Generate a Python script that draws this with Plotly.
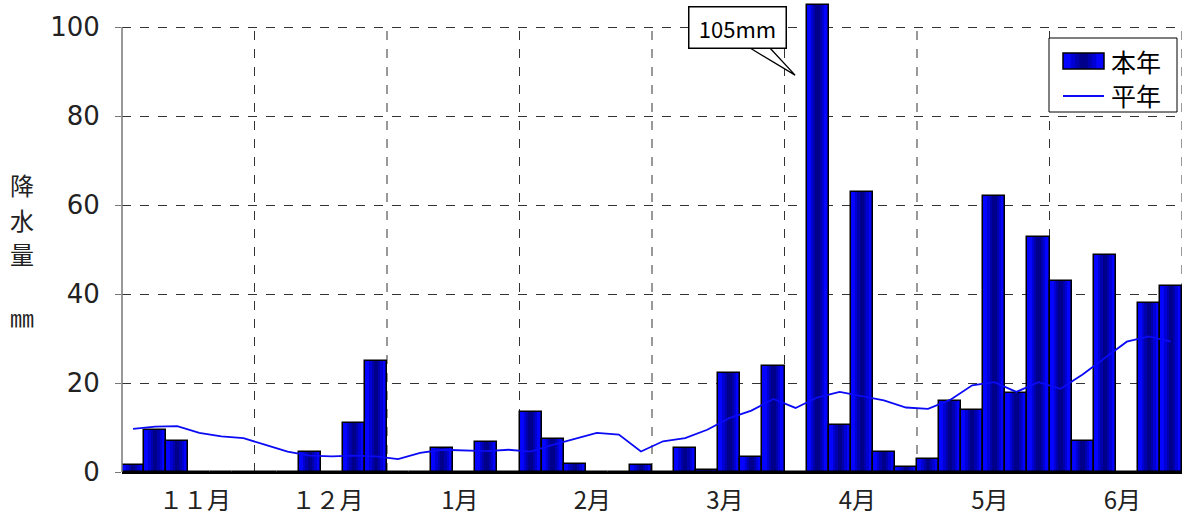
import plotly.graph_objects as go

# ---- data (5-day periods, Nov to Jun, 6 per month) ----
months = ["１１月", "１２月", "1月", "2月", "3月", "4月", "5月", "6月"]
periods_per_month = 6

this_year = [1.5, 9.5, 6.9, 0, 0, 0,
             0, 0, 4.5, 0, 11.0, 25.0,
             0, 0, 5.3, 0, 6.8, 0,
             13.6, 7.5, 1.9, 0, 0, 1.5,
             0, 5.3, 0.4, 22.3, 3.4, 23.9,
             0, 105, 10.5, 62.9, 4.5, 1.2,
             3.0, 15.9, 14.0, 62.0, 17.8, 52.8,
             42.9, 6.9, 48.7, 0, 38.0, 41.7]

normal = [9.7, 10.2, 10.3, 8.8, 8.0, 7.6,
          6.1, 4.6, 3.7, 3.5, 3.7, 3.5,
          2.9, 4.3, 5.0, 4.9, 4.7, 5.0,
          4.6, 6.1, 7.5, 8.8, 8.4, 4.6,
          6.9, 7.6, 9.5, 12.1, 13.8, 16.4,
          14.4, 16.8, 18.0, 17.0, 16.1, 14.5,
          14.2, 16.2, 19.5, 20.2, 18.0, 20.2,
          18.7, 21.9, 25.6, 29.3, 30.5, 29.3]

y_ticks = [0, 20, 40, 60, 80, 100]
peak_label = "105mm"
y_title_chars = ["降", "水", "量"]
y_unit = "㎜"
legend_names = ["本年", "平年"]

n = len(this_year)
x = list(range(n))
JP = "Noto Sans CJK JP"

# plot-area geometry helpers (pixels -> paper)
L, R, T, B = 122, 1182, 0, 472
def px(p):
    return (p - L) / (R - L)
def py(p):
    return (B - p) / (B - T)

fig = go.Figure()

# stepped gradient bars (bright edges, dark centre)
grad = [(1.0, "#0404FF"), (0.62, "#0000D4"), (0.40, "#0000AC"), (0.20, "#00008A")]
for w, c in grad:
    fig.add_trace(go.Bar(
        x=x, y=this_year, width=w, name=legend_names[0], showlegend=False,
        marker=dict(color=c, line=dict(width=0)), hoverinfo="skip"))
# outline on top
fig.add_trace(go.Bar(
    x=x, y=this_year, width=1.0, showlegend=False,
    marker=dict(color="rgba(0,0,0,0)", line=dict(color="black", width=1.5)),
    hoverinfo="skip"))

fig.add_trace(go.Scatter(
    x=x, y=normal, mode="lines", name=legend_names[1], showlegend=False,
    line=dict(color="#0A0AF5", width=1.8)))

shapes = []
# month boundaries (dashed)
for k in range(1, len(months) + 1):
    xb = k * periods_per_month - 0.5
    shapes.append(dict(type="line", xref="x", yref="y", x0=xb, x1=xb,
                       y0=0, y1=y_ticks[-1], layer="below",
                       line=dict(color="#333", width=1, dash="dash")))
# left axis line up to 100
shapes.append(dict(type="line", xref="paper", yref="y", x0=0, x1=0,
                   y0=0, y1=y_ticks[-1], layer="above",
                   line=dict(color="#777", width=1.5)))
# callout tail
peak_i = this_year.index(max(this_year))
shapes.append(dict(type="path", xref="x", yref="y",
                   path=f"M {peak_i-3.06},95.3 L {peak_i-1.02},89.2 L {peak_i-2.16},95.3",
                   fillcolor="white", line=dict(color="black", width=1.3),
                   layer="above"))

# custom legend box
shapes.append(dict(type="rect", xref="paper", yref="paper",
                   x0=px(1049), x1=px(1177), y0=py(112), y1=py(38),
                   fillcolor="white", line=dict(color="black", width=1),
                   layer="above"))
ix0, ix1, iy0, iy1 = 1063, 1104, 53, 69
icx = (ix0 + ix1) / 2
for w, c in grad:
    half = (ix1 - ix0) * w / 2
    shapes.append(dict(type="rect", xref="paper", yref="paper",
                       x0=px(icx - half), x1=px(icx + half), y0=py(iy1), y1=py(iy0),
                       fillcolor=c, line=dict(width=0), layer="above"))
shapes.append(dict(type="rect", xref="paper", yref="paper",
                   x0=px(ix0), x1=px(ix1), y0=py(iy1), y1=py(iy0),
                   fillcolor="rgba(0,0,0,0)", line=dict(color="black", width=1.5),
                   layer="above"))
shapes.append(dict(type="line", xref="paper", yref="paper",
                   x0=px(ix0), x1=px(ix1), y0=py(96), y1=py(96),
                   line=dict(color="#0A0AF5", width=1.8), layer="above"))

annotations = [
    dict(x=peak_i - 3.65, y=100, xref="x", yref="y", text=peak_label,
         showarrow=False, width=94, height=38, bgcolor="white",
         bordercolor="black", borderwidth=1.5,
         font=dict(family=JP, size=22, color="black")),
]
for ch, pyy in zip(y_title_chars, [185, 219, 253]):
    annotations.append(dict(x=px(22), y=py(pyy), xref="paper", yref="paper",
                            xanchor="center", yanchor="middle",
                            text=ch, showarrow=False,
                            font=dict(family=JP, size=24, color="#222")))
annotations.append(dict(x=px(22), y=py(316), xref="paper", yref="paper",
                        xanchor="center", yanchor="middle",
                        text=y_unit, showarrow=False,
                        font=dict(family=JP, size=24, color="#222")))
for name, pyy in zip(legend_names, [61, 95]):
    annotations.append(dict(x=px(1109), y=py(pyy), xref="paper", yref="paper",
                            xanchor="left", yanchor="middle",
                            text=name, showarrow=False,
                            font=dict(family=JP, size=25, color="black")))

fig.update_layout(
    width=1184, height=518,
    margin=dict(l=L, r=1184 - R, t=T, b=518 - B),
    paper_bgcolor="white", plot_bgcolor="white",
    barmode="overlay", bargap=0,
    shapes=shapes, annotations=annotations,
    showlegend=False,
    xaxis=dict(range=[-0.5, n - 0.5],
               tickvals=[i * periods_per_month + 2.8 for i in range(len(months))],
               ticktext=months, ticks="", showgrid=False, zeroline=False,
               showline=True, linecolor="black", linewidth=1.5,
               tickfont=dict(family=JP, size=24, color="#222"),
               ticklabelstandoff=6),
    yaxis=dict(range=[0, 106.1], tickvals=y_ticks, ticks="outside",
               ticklen=6, tickcolor="#777", showline=False, zeroline=False,
               showgrid=True, gridcolor="#333", griddash="dash", gridwidth=1,
               tickfont=dict(family="DejaVu Sans", size=26, color="#222"),
               ticklabelstandoff=10),
)

fig.write_html("out.html")
